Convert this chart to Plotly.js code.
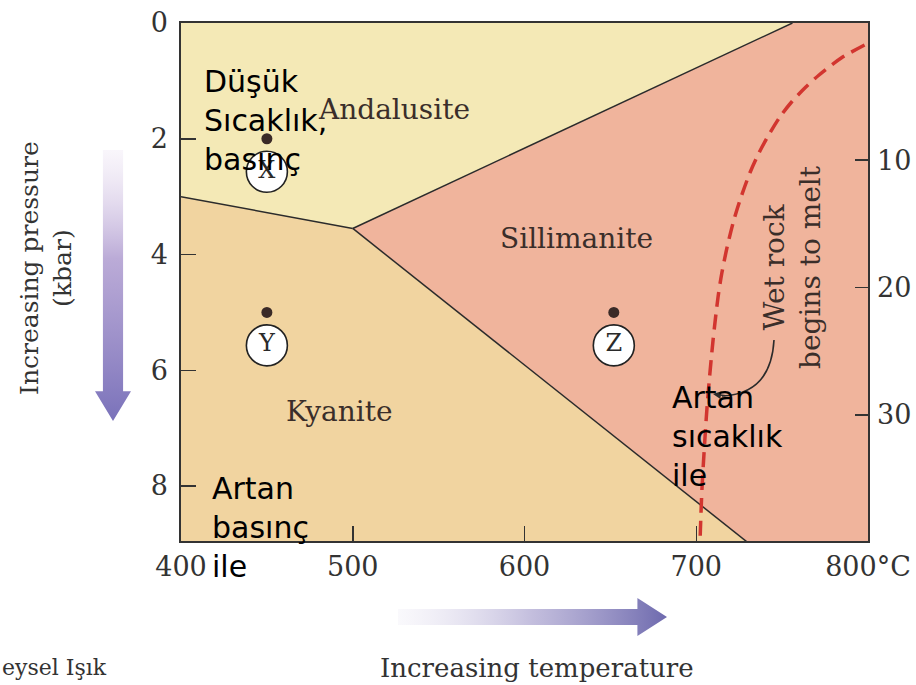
<!DOCTYPE html>
<html>
<head>
<meta charset="utf-8">
<script src="https://cdn.plot.ly/plotly-3.0.1.min.js"></script>
<style>html,body{margin:0;padding:0;background:#fff;}#chart{width:916px;height:685px;}</style>
</head>
<body>
<div id="chart"></div>
<script>
// ---- data ----
const tempTicks = [400, 500, 600, 700, 800];
const tempTickText = ['400', '500', '600', '700', '800°C'];
const pressTicks = [0, 2, 4, 6, 8];
const depthTicks = [10, 20, 30];

// phase boundaries (T in °C, P in kbar)
const andKyT = [400, 500];
const andKyP = [3.0, 3.55];
const andSilT = [500, 756];
const andSilP = [3.55, 0];
const kySilT = [500, 731];
const kySilP = [3.55, 9];

// wet rock melting curve
const meltP = [0.38, 0.605, 0.898, 1.106, 1.365, 1.624, 1.935, 2.246, 2.592, 3.006, 3.404, 3.87, 4.32, 4.734, 5.477, 6.513, 7.205, 8.068, 8.95];
const meltT = [798.0, 784.4, 771.5, 763.8, 755.5, 748.7, 742.2, 736.5, 731.2, 726.1, 721.9, 718.0, 714.9, 712.7, 709.8, 706.6, 705.0, 703.3, 702.2];

// sample points
const pointNames = ['X', 'Y', 'Z'];
const pointT = [450, 450, 652];
const pointP = [2.0, 5.0, 5.0];

// region labels
const regionNames = ['Andalusite', 'Sillimanite', 'Kyanite'];
const regionT = [524, 630, 492];
const regionP = [1.5, 3.73, 6.71];

// ---- geometry helpers ----
const W = 916, H = 685;
const PL = 181, PR = 868, PT = 23, PB = 541;
const px = v => v / W, py = v => 1 - v / H;
const Tmin = tempTicks[0], Tmax = tempTicks[tempTicks.length - 1];
const Pbot = 8.95;

const serif = 'DejaVu Serif';
const sans = 'DejaVu Sans';
const axisCol = '#333333';

// region polygons built from boundaries
const andalusite = {
  x: [Tmin, andSilT[1], andSilT[0], andKyT[0]],
  y: [0, andSilP[1], andSilP[0], andKyP[0]]
};
const kyanite = {
  x: [andKyT[0], andKyT[1], kySilT[1], Tmin],
  y: [andKyP[0], andKyP[1], kySilP[1], kySilP[1]]
};
const sillimanite = {
  x: [andSilT[1], Tmax, Tmax, kySilT[1], kySilT[0]],
  y: [0, 0, kySilP[1], kySilP[1], kySilP[0]]
};

const fillTrace = (poly, color) => ({
  type: 'scatter', mode: 'lines', x: poly.x, y: poly.y, fill: 'toself',
  fillcolor: color, line: {width: 0}, hoverinfo: 'skip', xaxis: 'x', yaxis: 'y'
});
const lineTrace = (xs, ys) => ({
  type: 'scatter', mode: 'lines', x: xs, y: ys,
  line: {color: '#2b2b2b', width: 1.5}, hoverinfo: 'skip'
});

const circleOffset = 0.57; // kbar below the dot (visual offset of the label circle)

const traces = [
  fillTrace(andalusite, '#f4e9b6'),
  fillTrace(kyanite, '#f1d4a0'),
  fillTrace(sillimanite, '#f0b49c'),
  lineTrace(andKyT, andKyP),
  lineTrace(andSilT, andSilP),
  lineTrace(kySilT, kySilP),
  {
    type: 'scatter', mode: 'lines', x: meltT, y: meltP,
    line: {color: '#d2352f', width: 3.5, dash: '15px,8px', shape: 'spline', smoothing: 0.8},
    hoverinfo: 'skip'
  },
  {
    type: 'scatter', mode: 'markers', x: pointT, y: pointP,
    marker: {size: 11, color: '#3a2a27'}, hoverinfo: 'skip'
  },
  {
    type: 'scatter', mode: 'markers+text', x: pointT, y: pointP.map(p => p + circleOffset),
    text: pointNames, textposition: 'middle center',
    textfont: {family: serif, size: 24, color: '#2a2a2a'},
    marker: {size: 41, color: '#ffffff', line: {color: '#222', width: 1.6}},
    hoverinfo: 'skip'
  },
  // vertical gradient arrow (left)
  {
    type: 'scatter', mode: 'lines', xaxis: 'x3', yaxis: 'y3',
    x: [0.22, 0.78, 0.78, 1.0, 0.5, 0.0, 0.22, 0.22],
    y: [1.0, 1.0, 0.11, 0.11, 0.0, 0.11, 0.11, 1.0],
    fill: 'toself', line: {width: 0},
    fillgradient: {type: 'vertical', start: 0, stop: 1,
      colorscale: [[0, 'rgba(122,114,186,1)'], [0.6, 'rgba(170,150,205,0.8)'], [1, 'rgba(225,210,235,0.2)']]},
    hoverinfo: 'skip'
  },
  // horizontal gradient arrow (bottom)
  {
    type: 'scatter', mode: 'lines', xaxis: 'x4', yaxis: 'y4',
    x: [0.0, 0.89, 0.89, 1.0, 0.89, 0.89, 0.0, 0.0],
    y: [0.29, 0.29, 0.0, 0.5, 1.0, 0.71, 0.71, 0.29],
    fill: 'toself', line: {width: 0},
    fillgradient: {type: 'horizontal', start: 0, stop: 1,
      colorscale: [[0, 'rgba(220,215,235,0.15)'], [0.5, 'rgba(175,168,210,0.75)'], [1, 'rgba(110,106,174,1)']]},
    hoverinfo: 'skip'
  }
];

const annotations = [];
regionNames.forEach((n, i) => annotations.push({
  x: regionT[i], y: regionP[i], xref: 'x', yref: 'y', text: n, showarrow: false,
  xanchor: 'center', yanchor: 'middle',
  font: {family: serif, size: 28, color: '#3a2e2a'}
}));

// wet rock label
annotations.push({
  x: px(793), y: py(267), xref: 'paper', yref: 'paper', text: 'Wet rock<br>begins to melt',
  xanchor: 'center', yanchor: 'middle',
  textangle: -90, showarrow: false, font: {family: serif, size: 28, color: '#3a2e2a'}
});
// arrowhead of the curved pointer
annotations.push({
  x: px(713), y: py(394), xref: 'paper', yref: 'paper', text: '', showarrow: true,
  ax: 14, ay: 2, arrowhead: 2, arrowsize: 1, arrowwidth: 1.6, arrowcolor: '#2b2b2b'
});

// axis titles
annotations.push({
  x: px(46), y: py(268), xref: 'paper', yref: 'paper', text: 'Increasing pressure<br>(kbar)',
  xanchor: 'center', yanchor: 'middle',
  textangle: -90, showarrow: false, font: {family: serif, size: 25, color: '#333'}
});
annotations.push({
  x: px(537), y: py(668), xref: 'paper', yref: 'paper', text: 'Increasing temperature',
  xanchor: 'center', yanchor: 'middle',
  showarrow: false, font: {family: serif, size: 26, color: '#333'}
});
annotations.push({
  x: px(0), y: py(667), xref: 'paper', yref: 'paper', xanchor: 'left', yanchor: 'middle', text: 'eysel Işık',
  showarrow: false, font: {family: serif, size: 22, color: '#333'}
});

// Turkish overlays
const trFont = {family: sans, size: 30, color: '#000'};
annotations.push({
  x: px(203), y: py(120), xref: 'paper', yref: 'paper', xanchor: 'left', yanchor: 'middle', align: 'left',
  text: 'Düşük<br>Sıcaklık,<br>basınç', showarrow: false, font: trFont, borderpad: 0
});
annotations.push({
  x: px(211), y: py(527), xref: 'paper', yref: 'paper', xanchor: 'left', yanchor: 'middle', align: 'left',
  text: 'Artan<br>basınç<br>ile', showarrow: false, font: trFont, borderpad: 0
});
annotations.push({
  x: px(671), y: py(436), xref: 'paper', yref: 'paper', xanchor: 'left', yanchor: 'middle', align: 'left',
  text: 'Artan<br>sıcaklık<br>ile', showarrow: false, font: trFont, borderpad: 0
});

const shapes = [
  {
    type: 'path', xref: 'paper', yref: 'paper',
    path: `M ${px(774)} ${py(340)} Q ${px(771)} ${py(394)} ${px(722)} ${py(396)}`,
    line: {color: '#2b2b2b', width: 1.6}
  }
];

const layout = {
  width: W, height: H,
  margin: {l: 0, r: 0, t: 0, b: 0, pad: 0},
  paper_bgcolor: '#ffffff', plot_bgcolor: '#ffffff',
  showlegend: false,
  xaxis: {
    domain: [px(PL), px(PR)], range: [Tmin, Tmax], tickvals: tempTicks, ticktext: tempTickText,
    ticks: 'inside', ticklen: 15, tickwidth: 1.5, tickcolor: axisCol,
    showline: true, linecolor: axisCol, linewidth: 1.6, mirror: true,
    showgrid: false, zeroline: false, ticklabelstandoff: 1,
    tickfont: {family: serif, size: 27, color: '#333'}
  },
  yaxis: {
    domain: [py(PB), py(PT)], range: [Pbot, 0], tickvals: pressTicks,
    ticks: 'inside', ticklen: 15, tickwidth: 1.5, tickcolor: axisCol,
    showline: true, linecolor: axisCol, linewidth: 1.6, mirror: true,
    showgrid: false, zeroline: false, ticklabelstandoff: 6,
    tickfont: {family: serif, size: 27, color: '#333'}
  },
  yaxis2: {
    overlaying: 'y', side: 'right', anchor: 'x', range: [39.88, -0.75], tickvals: depthTicks,
    ticks: 'inside', ticklen: 13, tickwidth: 1.5, tickcolor: axisCol,
    showline: false, showgrid: false, zeroline: false, ticklabelstandoff: 8,
    tickfont: {family: serif, size: 27, color: '#333'}
  },
  xaxis3: {domain: [px(95), px(131)], range: [0, 1], visible: false, fixedrange: true, anchor: 'y3'},
  yaxis3: {domain: [py(421), py(150)], range: [0, 1], visible: false, fixedrange: true, anchor: 'x3'},
  xaxis4: {domain: [px(398), px(667)], range: [0, 1], visible: false, fixedrange: true, anchor: 'y4'},
  yaxis4: {domain: [py(636), py(598)], range: [0, 1], visible: false, fixedrange: true, anchor: 'x4'},
  annotations: annotations,
  shapes: shapes
};

// invisible trace to activate the depth axis
traces.push({type: 'scatter', mode: 'markers', x: [Tmin], y: [depthTicks[0]], yaxis: 'y2',
  marker: {opacity: 0}, hoverinfo: 'skip'});

Plotly.newPlot('chart', traces, layout, {staticPlot: true, displayModeBar: false});
</script>
</body>
</html>
